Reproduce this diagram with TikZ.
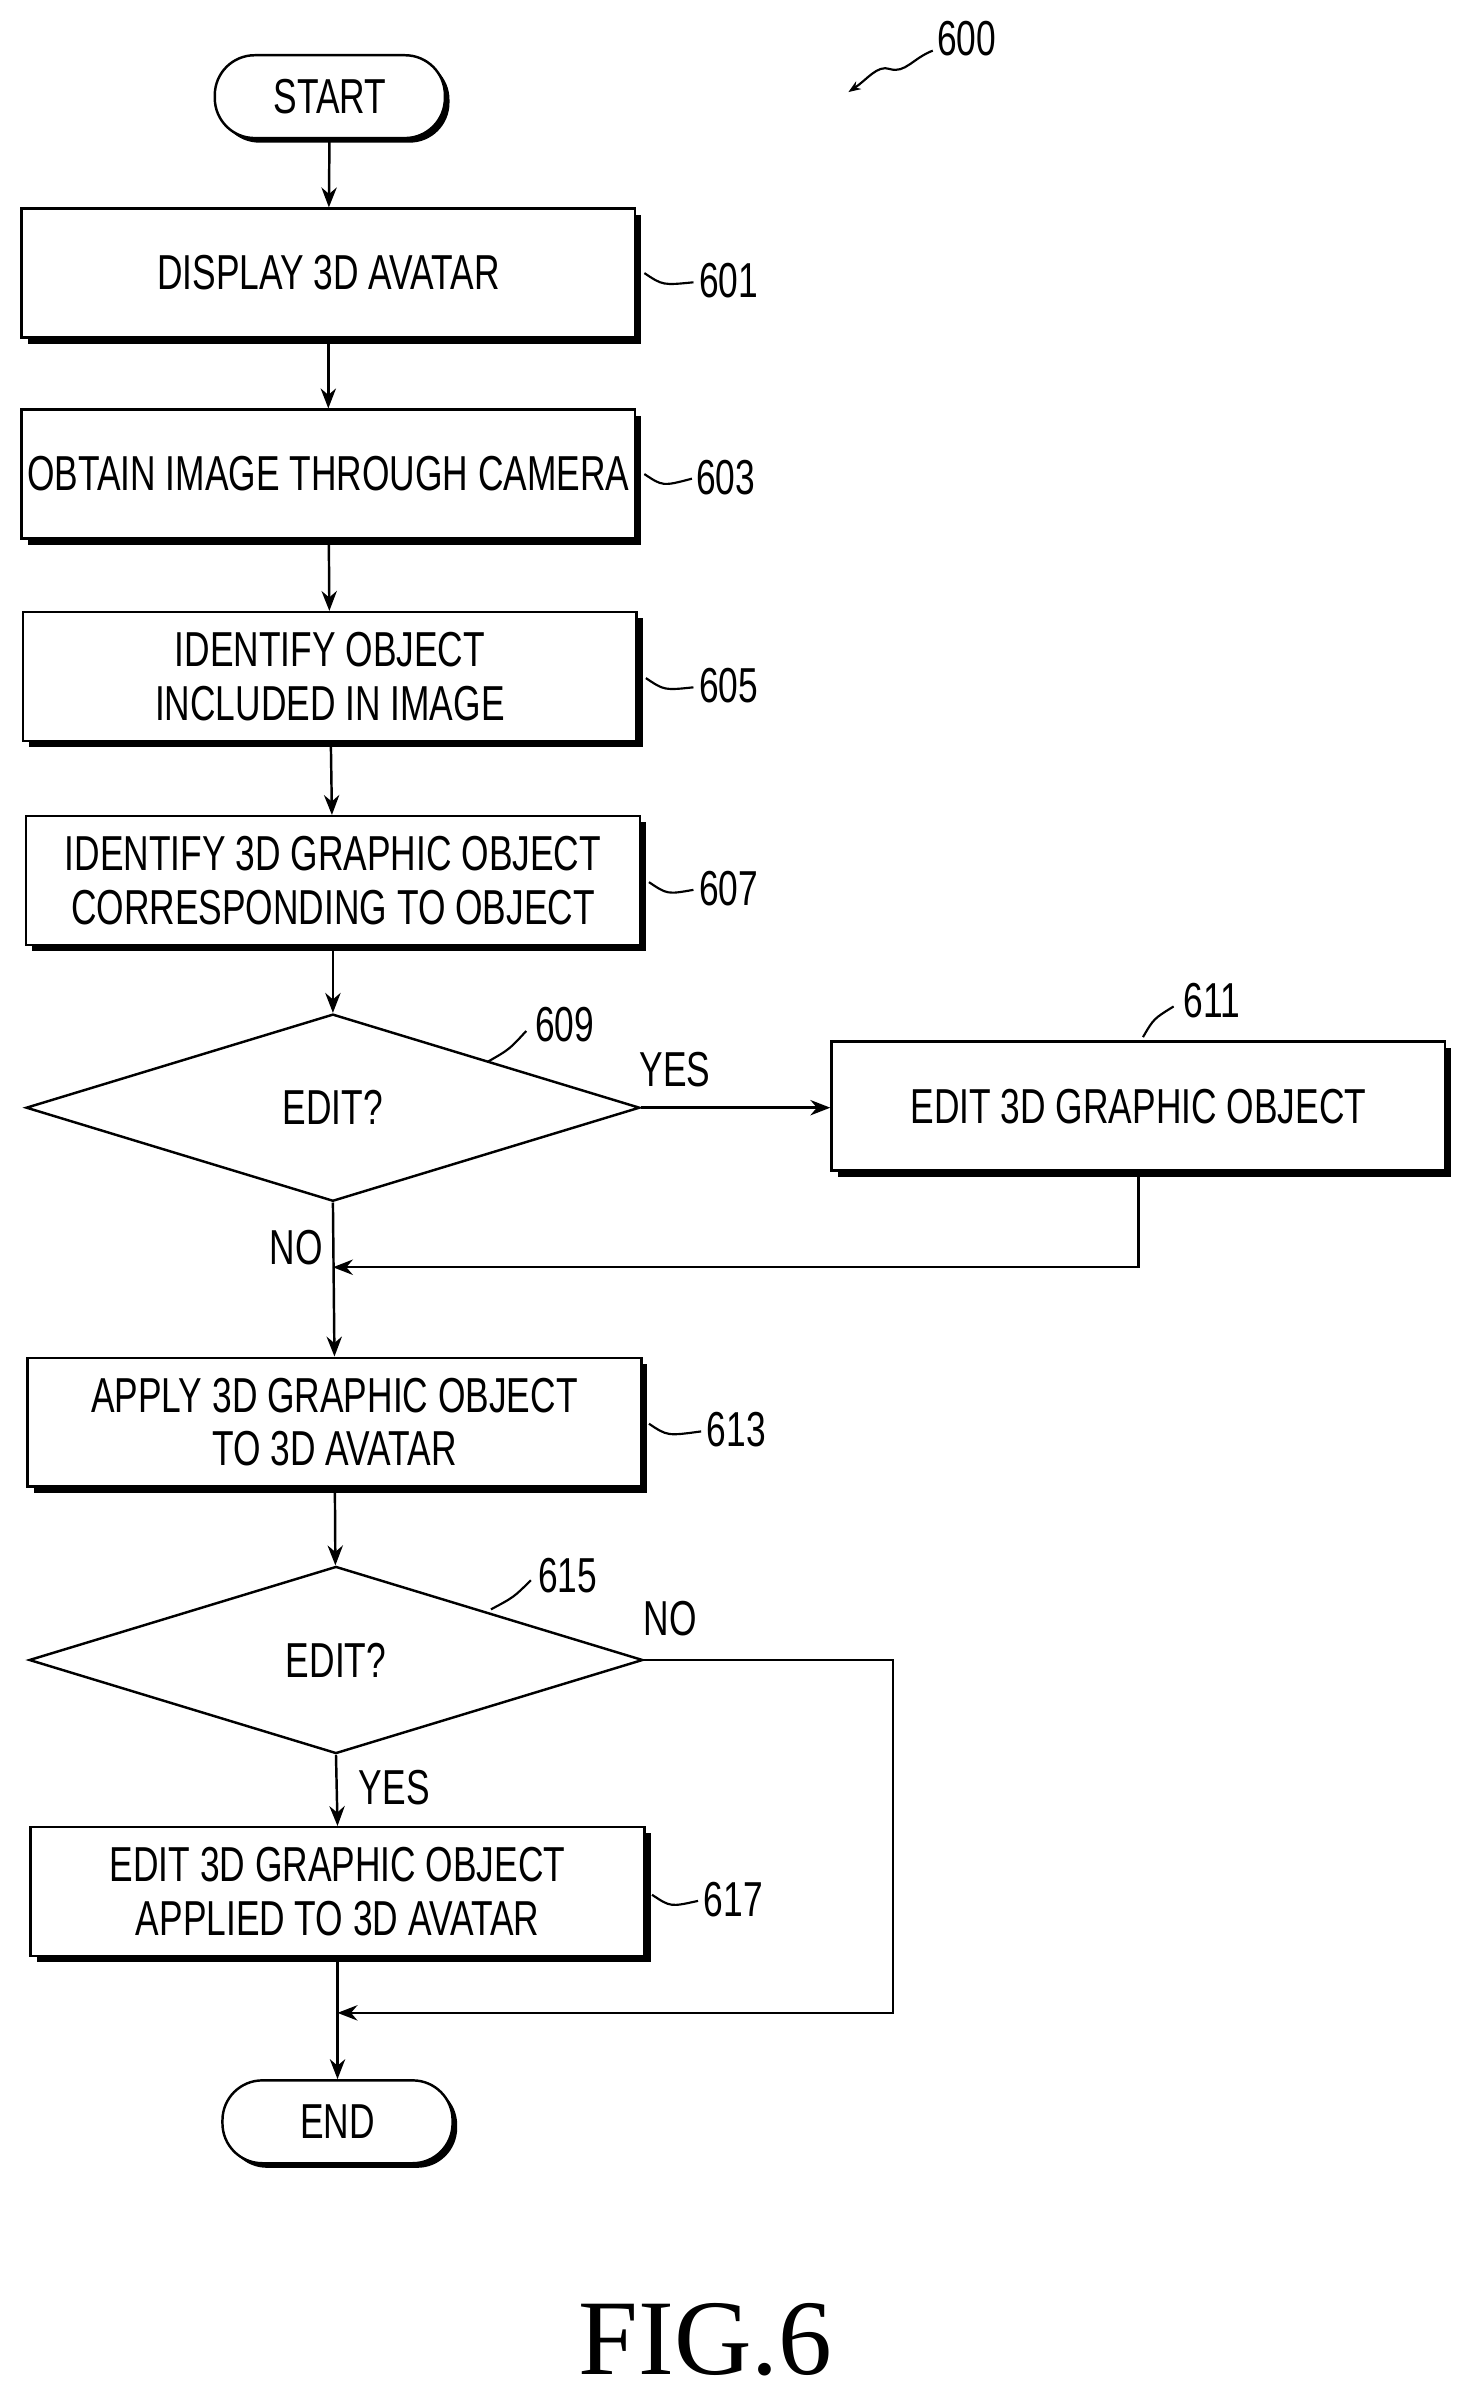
\documentclass[tikz,border=0pt]{standalone}
\usepackage{fontspec}
\setmainfont{Liberation Sans}[FakeStretch=0.72]
\newfontfamily\figfont{Liberation Serif}
\usetikzlibrary{shapes.geometric,shadows,arrows.meta}
\begin{document}
\begin{tikzpicture}[x=1pt,y=-1pt,
  every node/.style={font=\fontsize{32}{35}\selectfont},
  box/.style={draw,line width=1.6pt,fill=white,minimum width=400pt,minimum height=84pt,align=center,inner sep=0pt,
    drop shadow={shadow xshift=4pt,shadow yshift=-4pt,fill=black,opacity=1}},
  term/.style={draw,line width=1.6pt,fill=white,rounded corners=26pt,minimum width=150pt,minimum height=54pt,
    drop shadow={shadow xshift=3pt,shadow yshift=-3pt,fill=black,opacity=1}},
  dec/.style={draw,line width=1.6pt,diamond,aspect=3.3,minimum width=400pt,minimum height=122pt,inner sep=0pt},
  arr/.style={line width=1.6pt,-{Stealth[length=13pt,width=10pt]}},
  ln/.style={line width=1.4pt},
  lab/.style={inner sep=0pt}]
\useasboundingbox (0,0) rectangle (960,1565);
\node[term] (start) at (215,63) {START};
\node[box] (b601) at (214,178) {DISPLAY 3D AVATAR};
\node[box] (b603) at (214,309) {OBTAIN IMAGE THROUGH CAMERA};
\node[box] (b605) at (215,441) {IDENTIFY OBJECT\\INCLUDED IN IMAGE};
\node[box] (b607) at (217,574) {IDENTIFY 3D GRAPHIC OBJECT\\CORRESPONDING TO OBJECT};
\node[dec] (d609) at (217,722) {EDIT?};
\node[box] (b611) at (742,721) {EDIT 3D GRAPHIC OBJECT};
\node[box] (b613) at (218,927) {APPLY 3D GRAPHIC OBJECT\\TO 3D AVATAR};
\node[dec] (d615) at (219,1082) {EDIT?};
\node[box] (b617) at (220,1233) {EDIT 3D GRAPHIC OBJECT\\APPLIED TO 3D AVATAR};
\node[term] (end) at (220,1383) {END};
\coordinate (m1) at (217,826);
\coordinate (m2) at (220,1312);
\draw[arr] (start) -- (b601);
\draw[arr] (b601) -- (b603);
\draw[arr] (b603) -- (b605);
\draw[arr] (b605) -- (b607);
\draw[arr] (b607) -- (d609);
\draw[arr] (d609.east) -- (d609.east -| b611.west);
\draw[arr] (b611.south) |- (m1);
\draw[arr] (d609.south) -- (b613.north);
\draw[arr] (b613) -- (d615);
\draw[arr] (d615.south) -- (b617.north);
\draw[arr] (b617.south) -- (end.north);
\draw[arr] (d615.east) -- (582,1082) |- (m2);
\node[lab] at (440,697) {YES};
\node[lab] at (193,813) {NO};
\node[lab] at (437,1055) {NO};
\node[lab] at (257,1165) {YES};
\node[lab] (l601) at (475,183) {601};
\node[lab] (l603) at (473,311) {603};
\node[lab] (l605) at (475,447) {605};
\node[lab] (l607) at (475,579) {607};
\node[lab] (l613) at (480,932) {613};
\node[lab] (l617) at (478,1238) {617};
\node[lab] (l609) at (368,668) {609};
\node[lab] (l611) at (790,652) {611};
\node[lab] (l615) at (370,1027) {615};
\node[lab] (l600) at (630,25) {600};
\draw[ln] (420,178) .. controls (432,186) .. (452,184);
\draw[ln] (420,309) .. controls (432,317) .. (451,312);
\draw[ln] (421,442) .. controls (433,450) .. (452,448);
\draw[ln] (423,575) .. controls (435,583) .. (452,580);
\draw[ln] (423,928) .. controls (435,936) .. (457,933);
\draw[ln] (425,1235) .. controls (437,1243) .. (455,1239);
\draw[ln] (318,692) .. controls (332,684) .. (343,672);
\draw[ln] (745,676) .. controls (752,664) .. (765,656);
\draw[ln] (320,1049) .. controls (335,1041) .. (346,1030);
\draw[ln,-{Stealth[length=8pt]}] (608,33) .. controls (595,38) and (590,48) .. (580,45) .. controls (572,42) and (565,52) .. (553,60);
\node[lab,font=\figfont\fontsize{70}{70}\selectfont] (fig) at (460,1525) {FIG.6};
\end{tikzpicture}
\end{document}
